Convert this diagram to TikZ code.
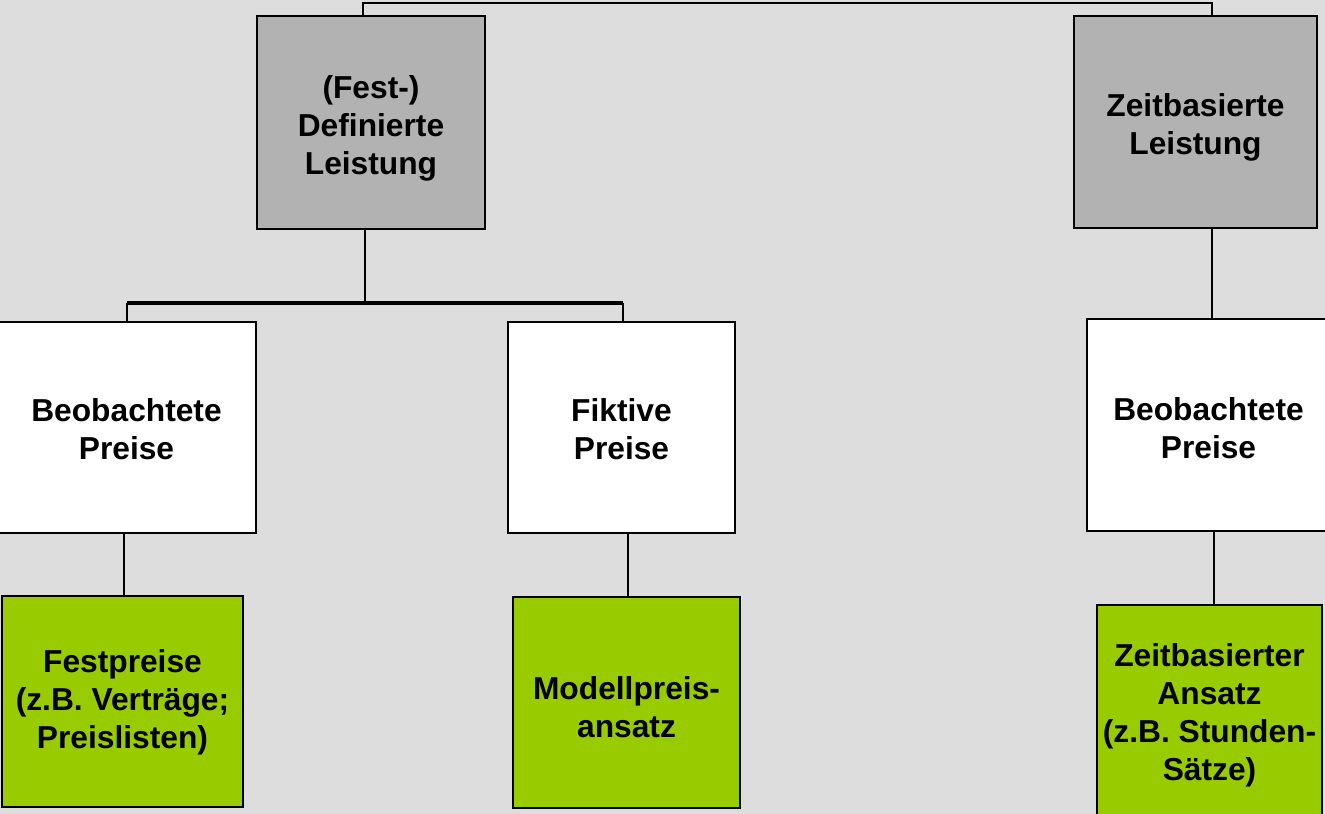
\documentclass[tikz,border=0pt]{standalone}
\usepackage{fontspec}
\setmainfont{Liberation Sans}
\definecolor{bg}{HTML}{DDDDDD}
\definecolor{boxgray}{HTML}{B2B2B2}
\definecolor{boxgreen}{HTML}{99CC00}
\tikzset{
  box/.style={draw=black, line width=1.5pt, inner sep=0pt},
  txt/.style={inner sep=0pt, align=center,
    font=\fontsize{23.8}{28.5}\selectfont\bfseries},
  conn/.style={draw=black, line width=1.5pt},
  bar/.style={draw=black, line width=2.4pt}
}
\begin{document}
\begin{tikzpicture}[x=0.75pt,y=-0.75pt]
\useasboundingbox (0,0) rectangle (1325,814);
\clip (0,0) rectangle (1325,814);
\fill[bg] (0,0) rectangle (1325,814);

% boxes
\node[box, fill=boxgray, minimum width=228*0.75pt, minimum height=213*0.75pt] (g1) at (371,122.5) {};
\node[box, fill=boxgray, minimum width=243*0.75pt, minimum height=212*0.75pt] (g2) at (1195.5,122) {};
\node[box, fill=white, minimum width=259*0.75pt, minimum height=211*0.75pt] (w1) at (126.5,427.5) {};
\node[box, fill=white, minimum width=227*0.75pt, minimum height=211*0.75pt] (w2) at (621.5,427.5) {};
\node[box, fill=white, minimum width=243*0.75pt, minimum height=212*0.75pt] (w3) at (1208.5,425) {};
\node[box, fill=boxgreen, minimum width=241*0.75pt, minimum height=211*0.75pt] (gr1) at (122.5,701.5) {};
\node[box, fill=boxgreen, minimum width=227*0.75pt, minimum height=211*0.75pt] (gr2) at (626.5,702.5) {};
\node[box, fill=boxgreen, minimum width=225*0.75pt, minimum height=211*0.75pt] (gr3) at (1209.5,710.5) {};

% texts
\node[txt] (g1t) at ([yshift=-4.5pt]g1.center) {(Fest-)\\Definierte\\Leistung};
\node[txt] (g2t) at ([yshift=-3.75pt]g2.center) {Zeitbasierte\\Leistung};
\node[txt] (w1t) at ([yshift=-1.5pt]w1.center) {Beobachtete\\Preise};
\node[txt] (w2t) at ([yshift=-1.5pt]w2.center) {Fiktive\\Preise};
\node[txt] (w3t) at ([yshift=-2.25pt]w3.center) {Beobachtete\\Preise};
\node[txt] (gr1t) at ([yshift=-0.75pt]gr1.center) {Festpreise\\(z.B. Verträge;\\Preislisten)};
\node[txt] (gr2t) at ([yshift=-3.75pt]gr2.center) {Modellpreis-\\ansatz};
\node[txt] (gr3t) at ([yshift=-3.75pt]gr3.center) {Zeitbasierter\\Ansatz\\(z.B. Stunden-\\Sätze)};

% connectors
\coordinate (t1) at (363,3);
\coordinate (t2) at (1212,3);
\coordinate (b1) at (365,303);
\coordinate (b2) at (127,303);
\coordinate (b3) at (623,303);
\coordinate (c1) at (124,0);
\coordinate (c2) at (628,0);
\coordinate (c3) at (1214,0);

\draw[conn] (g1.north -| t1) -- (t1) -- (t2) -- (g2.north -| t2);
\draw[conn] (g1.south -| b1) -- (b1);
\draw[bar] (b2) -- (b3);
\draw[conn] (b2) -- (w1.north -| b2);
\draw[conn] (b3) -- (w2.north -| b3);
\draw[conn] (g2.south -| t2) -- (w3.north -| t2);
\draw[conn] (w1.south -| c1) -- (gr1.north -| c1);
\draw[conn] (w2.south -| c2) -- (gr2.north -| c2);
\draw[conn] (w3.south -| c3) -- (gr3.north -| c3);
\end{tikzpicture}
\end{document}
